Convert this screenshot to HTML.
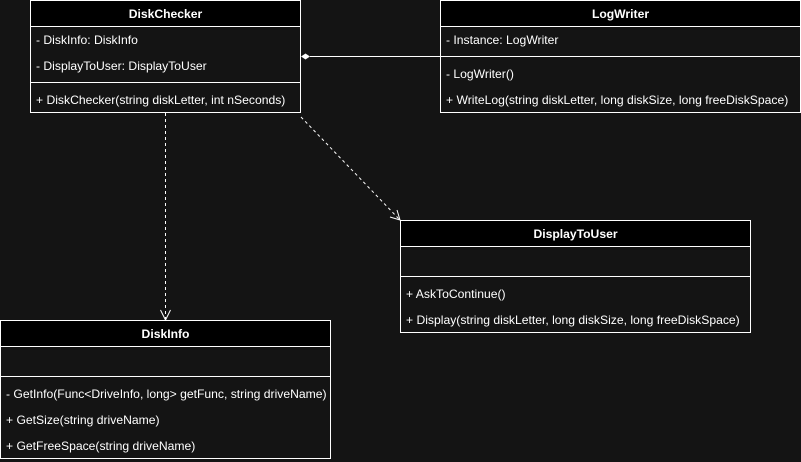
<!DOCTYPE html>
<html><head><meta charset="utf-8"><style>
html,body{margin:0;padding:0;background:#141414;}
svg{display:block;font-family:"Liberation Sans",Arial,sans-serif;font-size:12.15px;}
</style></head><body>
<svg width="801" height="462" viewBox="0 0 801 462">
<rect width="801" height="462" fill="#141414"/>
<g stroke="#fff" stroke-width="1" fill="none">
<rect x="30.5" y="0.5" width="270" height="26" fill="#000"/>
<rect x="30.5" y="0.5" width="270" height="112"/>
<line x1="30.5" y1="82.5" x2="300.5" y2="82.5"/>
<rect x="440.5" y="0.5" width="360" height="26" fill="#000"/>
<rect x="440.5" y="0.5" width="360" height="112"/>
<line x1="440.5" y1="56.5" x2="800.5" y2="56.5"/>
<rect x="400.5" y="220.5" width="350" height="26" fill="#000"/>
<rect x="400.5" y="220.5" width="350" height="112"/>
<line x1="400.5" y1="276.5" x2="750.5" y2="276.5"/>
<rect x="0.5" y="320.5" width="330" height="26" fill="#000"/>
<rect x="0.5" y="320.5" width="330" height="138"/>
<line x1="0.5" y1="376.5" x2="330.5" y2="376.5"/>
<line x1="310" y1="56.5" x2="440" y2="56.5"/>
<line x1="165.5" y1="113" x2="165.5" y2="319" stroke-dasharray="3,3"/>
<polyline points="160.5,310 165.5,320 170.5,310"/>
<line x1="301" y1="117" x2="399" y2="219" stroke-dasharray="3,3"/>
<polyline points="390,217 400,220 397,210"/>
</g>
<polygon points="301,56.5 305.5,53.5 310,56.5 305.5,59.5" fill="#fff"/>
<g fill="#fff">
<text x="165.5" y="18" text-anchor="middle" font-weight="bold">DiskChecker</text>
<text x="36" y="44">- DiskInfo: DiskInfo</text>
<text x="36" y="70">- DisplayToUser: DisplayToUser</text>
<text x="36" y="104">+ DiskChecker(string diskLetter, int nSeconds)</text>
<text x="620.5" y="18" text-anchor="middle" font-weight="bold">LogWriter</text>
<text x="446" y="44">- Instance: LogWriter</text>
<text x="446" y="78">- LogWriter()</text>
<text x="446" y="104">+ WriteLog(string diskLetter, long diskSize, long freeDiskSpace)</text>
<text x="575.5" y="238" text-anchor="middle" font-weight="bold">DisplayToUser</text>
<text x="406" y="298">+ AskToContinue()</text>
<text x="406" y="324">+ Display(string diskLetter, long diskSize, long freeDiskSpace)</text>
<text x="165.5" y="338" text-anchor="middle" font-weight="bold">DiskInfo</text>
<text x="6" y="398">- GetInfo(Func&lt;DriveInfo, long&gt; getFunc, string driveName)</text>
<text x="6" y="424">+ GetSize(string driveName)</text>
<text x="6" y="450">+ GetFreeSpace(string driveName)</text>
</g>
</svg>
</body></html>
